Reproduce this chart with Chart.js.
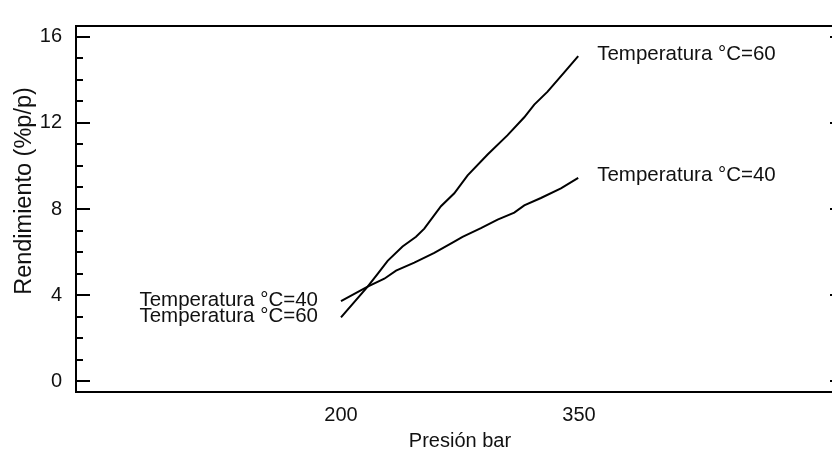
<!DOCTYPE html>
<html>
<head>
<meta charset="utf-8">
<script src="https://cdn.jsdelivr.net/npm/chart.js@4/dist/chart.umd.min.js"></script>
<style>
html,body{margin:0;padding:0;background:#fff;overflow:hidden;}
#wrap{width:832px;height:450px;overflow:hidden;position:relative;}
canvas{display:block;}
</style>
</head>
<body>
<div id="wrap"><canvas id="c" width="850" height="450"></canvas></div>
<script>
// ---- data ----
const pressure60 = [200, 216.8, 223.1, 229.4, 238.8, 247.3, 252.5, 263.0, 271.4, 279.8, 292.4, 305.0, 315.5, 321.8, 330.2, 340.7, 349.5];
const yield60    = [2.97, 4.39, 4.99, 5.59, 6.26, 6.71, 7.09, 8.13, 8.73, 9.56, 10.53, 11.43, 12.26, 12.85, 13.45, 14.35, 15.10];
const pressure40 = [200, 216.8, 227.3, 234.7, 246.2, 258.8, 271.4, 276.6, 288.2, 298.7, 309.2, 315.5, 326.0, 338.6, 349.5];
const yield40    = [3.72, 4.39, 4.76, 5.14, 5.51, 5.96, 6.49, 6.71, 7.11, 7.51, 7.83, 8.17, 8.51, 8.96, 9.45];
const seriesNames = ['Temperatura °C=60', 'Temperatura °C=40'];
const xTickValues = [200, 350];
const yTickLabels = [0, 4, 8, 12, 16];
const xTitle = 'Presión bar';
const yTitle = 'Rendimiento (%p/p)';

const FONT = '"Liberation Sans", Arial, sans-serif';

function pts(xs, ys){ return xs.map((x,i)=>({x:x, y:ys[i]})); }

const framePlugin = {
  id: 'frame',
  afterDatasetsDraw(chart){
    const ctx = chart.ctx, a = chart.chartArea;
    const ys = chart.scales.y, xs = chart.scales.x;
    ctx.save();
    ctx.strokeStyle = '#000';
    ctx.lineWidth = 2;
    ctx.beginPath();
    ctx.moveTo(a.left, a.top); ctx.lineTo(a.right, a.top);
    ctx.lineTo(a.right, a.bottom); ctx.lineTo(a.left, a.bottom); ctx.closePath();
    ctx.stroke();
    // inward ticks
    ctx.beginPath();
    for (let v = 0; v <= 16; v++) {
      const y = Math.round(ys.getPixelForValue(v));
      const len = (v % 4 === 0) ? 14 : 7;
      ctx.moveTo(a.left, y); ctx.lineTo(a.left + len, y);
      ctx.moveTo(a.right, y); ctx.lineTo(a.right - len, y);
    }
    ctx.stroke();

    // series labels at line ends
    ctx.fillStyle = '#111';
    ctx.font = '20.5px ' + FONT;
    ctx.textBaseline = 'alphabetic';
    const ds = chart.data.datasets;
    ds.forEach((d) => {
      const last = d.data[d.data.length-1];
      const px = xs.getPixelForValue(last.x), py = ys.getPixelForValue(last.y);
      ctx.textAlign = 'left';
      ctx.fillText(d.label, px + 19, py + 3.5);
    });
    const d60 = ds[0].data[0], d40 = ds[1].data[0];
    ctx.textAlign = 'right';
    ctx.fillText(ds[1].label, xs.getPixelForValue(d40.x) - 23, ys.getPixelForValue(d40.y) + 5);
    ctx.fillText(ds[0].label, xs.getPixelForValue(d60.x) - 23, ys.getPixelForValue(d60.y) + 4.5);

    // axis titles
    ctx.textAlign = 'center';
    ctx.font = '20px ' + FONT;
    ctx.fillText(xTitle, (a.left + a.right) / 2, 447);
    ctx.save();
    ctx.translate(31, 191);
    ctx.rotate(-Math.PI/2);
    ctx.font = '23.5px ' + FONT;
    ctx.textAlign = 'center';
    ctx.fillText(yTitle, 0, 0);
    ctx.restore();
    ctx.restore();
  }
};

new Chart(document.getElementById('c'), {
  type: 'scatter',
  data: {
    datasets: [
      { label: seriesNames[0], data: pts(pressure60, yield60), showLine: true, borderColor: '#000', borderWidth: 2, pointRadius: 0, tension: 0, fill: false },
      { label: seriesNames[1], data: pts(pressure40, yield40), showLine: true, borderColor: '#000', borderWidth: 2, pointRadius: 0, tension: 0, fill: false }
    ]
  },
  options: {
    responsive: false,
    animation: false,
    events: [],
    layout: { padding: { left: 0, top: 14, right: 6, bottom: 0 } },
    plugins: { legend: { display: false }, tooltip: { enabled: false } },
    scales: {
      x: {
        type: 'linear', min: 33, max: 517,
        afterBuildTicks: (s) => { s.ticks = xTickValues.map(v => ({value: v})); },
        afterFit: (s) => { s.height = 58; },
        grid: { display: false, drawTicks: false },
        border: { display: false },
        ticks: { color: '#111', padding: 11, maxRotation: 0, font: { family: FONT, size: 20 } }
      },
      y: {
        type: 'linear', min: -0.5, max: 16.5,
        afterBuildTicks: (s) => { s.ticks = yTickLabels.map(v => ({value: v})); },
        afterFit: (s) => { s.width = 76; },
        grid: { display: false, drawTicks: false },
        border: { display: false },
        ticks: { color: '#111', padding: 14, font: { family: FONT, size: 20 } }
      }
    }
  },
  plugins: [framePlugin]
});
</script>
</body>
</html>
